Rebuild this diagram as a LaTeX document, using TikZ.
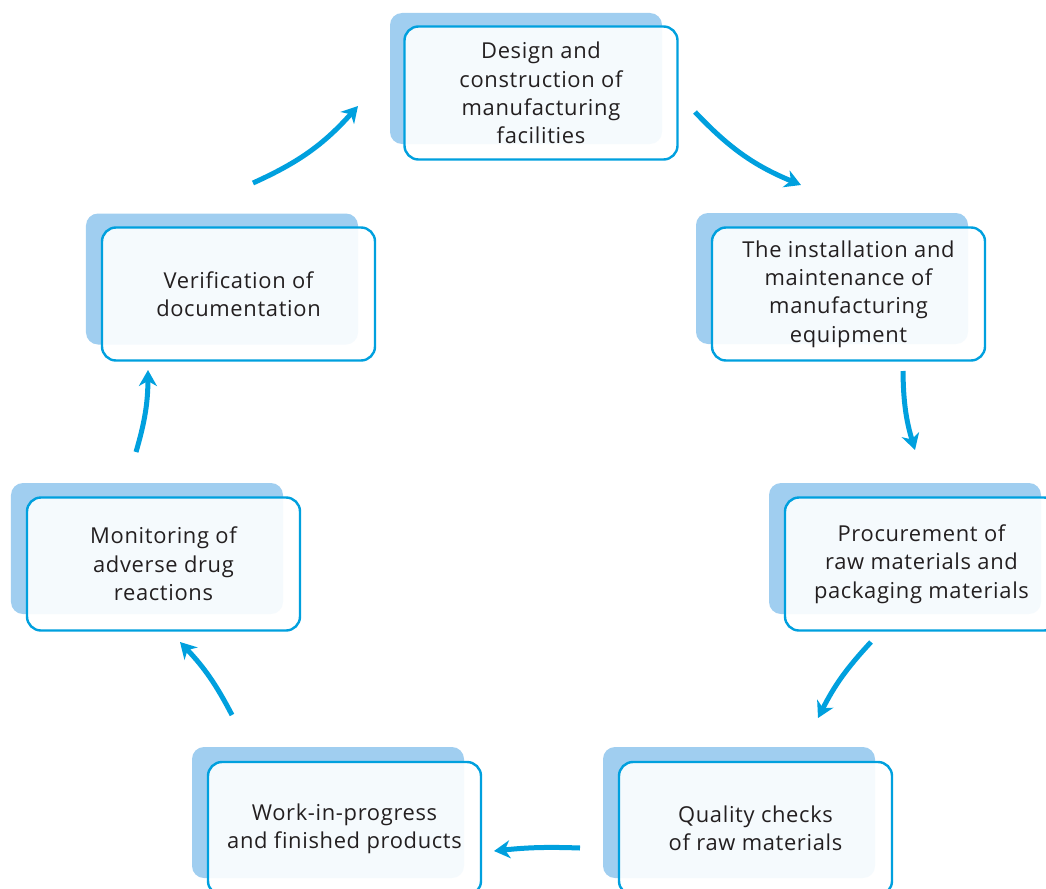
\documentclass[tikz,border=0pt]{standalone}
\usepackage{fontspec}
\setmainfont{Open Sans}[LetterSpace=3,Ligatures=NoCommon]
\usetikzlibrary{arrows.meta}
\definecolor{backblue}{RGB}{160,206,240}
\definecolor{lineblue}{RGB}{0,160,222}
\definecolor{ink}{RGB}{35,31,32}
\begin{document}
\begin{tikzpicture}[x=1bp,y=-1bp,
  backcard/.style={fill=backblue, rounded corners=12bp, minimum width=272bp,
    minimum height=131bp, inner sep=0pt},
  card/.style={draw=lineblue, line width=2.4bp, fill=white, fill opacity=0.9,
    text opacity=1, rounded corners=14bp, minimum width=273bp,
    minimum height=133bp, inner sep=0pt, align=center, text=ink,
    font=\fontsize{22}{28.5}\selectfont},
  flow/.style={draw=lineblue, line width=5bp,
    -{Stealth[length=16bp,width=18bp,inset=5bp]}}]
  \useasboundingbox (0,0) rectangle (1046,889);
  \clip (0,0) rectangle (1046,889);

  % shadow cards, offset up and to the left
  \node[backcard] (b1) at (526,78.5) {};
  \node[backcard] (b2) at (832,278.5) {};
  \node[backcard] (b3) at (905,548.5) {};
  \node[backcard] (b4) at (739,812.5) {};
  \node[backcard] (b5) at (328,812.5) {};
  \node[backcard] (b6) at (147,548.5) {};
  \node[backcard] (b7) at (222,279) {};

  % front cards
  \node[card] (n1) at (541,93) {Design and\\construction of\\manufacturing\\facilities};
  \node[card] (n2) at (848.5,294) {The installation and\\maintenance of\\manufacturing\\equipment};
  \node[card] (n3) at (921.5,564) {Procurement of\\raw materials and\\packaging materials};
  \node[card] (n4) at (755.5,828.5) {Quality checks\\of raw materials};
  \node[card] (n5) at (344.5,828.5) {Work-in-progress\\and finished products};
  \node[card] (n6) at (163.5,564) {Monitoring of\\adverse drug\\reactions};
  \node[card] (n7) at (238.5,294) {Verification of\\documentation};

  % arrow end points
  \coordinate (s1) at (695,112);  \coordinate (e1) at (801,185);
  \coordinate (s2) at (903,371);  \coordinate (e2) at (915,450);
  \coordinate (s3) at (871,642);  \coordinate (e3) at (818,718);
  \coordinate (s4) at (580,848);  \coordinate (e4) at (494,851);
  \coordinate (s5) at (232,715);  \coordinate (e5) at (180,642);
  \coordinate (s6) at (136,452);  \coordinate (e6) at (148,370);
  \coordinate (s7) at (253,183);  \coordinate (e7) at (358,106);

  \draw[flow] (s1) to[bend right=12] (e1);
  \draw[flow] (s2) to[bend right=8] (e2);
  \draw[flow] (s3) to[bend right=8] (e3);
  \draw[flow] (s4) to[bend right=4] (e4);
  \draw[flow] (s5) to[bend right=8] (e5);
  \draw[flow] (s6) to[bend right=8] (e6);
  \draw[flow] (s7) to[bend right=12] (e7);
\end{tikzpicture}
\end{document}
